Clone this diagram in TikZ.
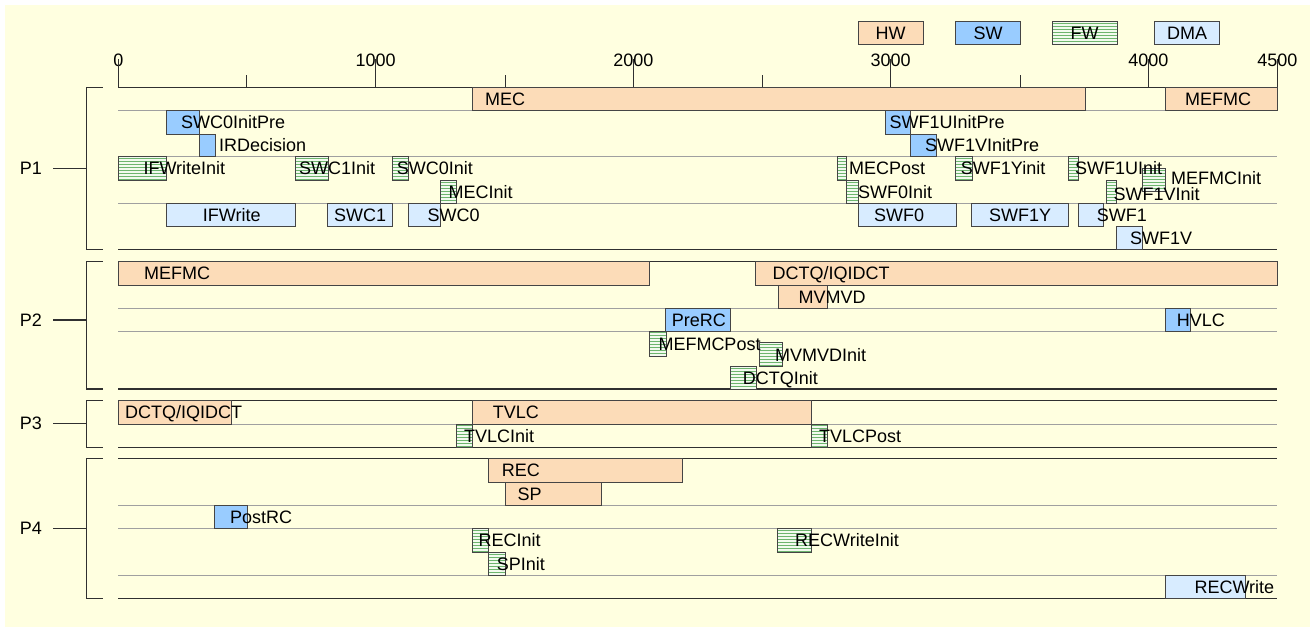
\documentclass[tikz,border=0pt]{standalone}
\usepackage{fontspec}
\setmainfont{Liberation Sans}
\usetikzlibrary{patterns}
\definecolor{bg}{HTML}{FFFFE0}
\definecolor{hw}{HTML}{FCDCB8}
\definecolor{sw}{HTML}{99CCFF}
\definecolor{dma}{HTML}{D8ECFF}
\definecolor{fwbg}{HTML}{F2FAEE}
\definecolor{fwln}{HTML}{6DB56D}
\definecolor{edge}{HTML}{454545}
\definecolor{lane}{HTML}{A0A0A0}
\definecolor{dark}{HTML}{303030}
\pgfdeclarelayer{fg}
\pgfsetlayers{main,fg}
\tikzset{
  hwbox/.style={draw=edge,fill=hw,line width=1pt},
  swbox/.style={draw=edge,fill=sw,line width=1pt},
  dmabox/.style={draw=edge,fill=dma,line width=1pt},
  fwbox/.style={draw=edge,line width=1pt,preaction={fill=fwbg},pattern=horizontal lines,pattern color=fwln},
  txt/.style={inner sep=0pt,font=\fontsize{18}{21}\selectfont},
  lbl/.style={txt,anchor=base west},
  laneline/.style={draw=lane,line width=1pt},
  grpline/.style={draw=dark,line width=1.2pt},
  brk/.style={draw=dark,line width=1.2pt},
  tick/.style={draw=dark,line width=1pt},
  legbox/.style={minimum width=65pt,minimum height=23.3pt,inner sep=0pt,font=\fontsize{18}{21}\selectfont}
}
% #1 style, #2 x1, #3 y1, #4 x2, #5 y2, #6 name, #7 text x, #8 text, #9 text y offset
\newcommand\taskoff[9]{%
  \draw[#1] (#2,#3) rectangle (#4,#5);
  \begin{pgfonlayer}{fg}
    \node[lbl] (#6) at (#7,{(#3+#5)/2+6.5+#9}) {#8};
  \end{pgfonlayer}}
\newcommand\task[8]{\taskoff{#1}{#2}{#3}{#4}{#5}{#6}{#7}{#8}{0}}
% #1 name, #2 top, #3 bottom, #4 label y, #5 text
\newcommand\group[5]{%
  \draw[brk] (102.7,#2) -- (86.3,#2) -- (86.3,#3) -- (102.7,#3);
  \coordinate (#1b) at (86.3,#4);
  \node[txt] (#1) at (31,#4) {#5};
  \draw[brk] ([xshift=11pt]#1.east) -- (#1b);}
\begin{document}
\begin{tikzpicture}[x=1pt,y=-1pt]
\useasboundingbox (0,0) rectangle (1313,627);
\fill[white] (0,0) rectangle (1313,627);
\fill[bg] (5,5) rectangle (1310,627);

% lane lines
\foreach \y in {110.6,156.7,203.3,308.3,331,424,505.7,528.3,575}
  \draw[laneline] (118.3,\y) -- (1277.3,\y);
\foreach \y in {87.3,249.3,261.7,389,400.7,447.3,458.3,598.3}
  \draw[grpline] (118.3,\y) -- (1277.3,\y);

% axis
\foreach \x/\t in {118.3/0,375.7/1000,633.3/2000,890.7/3000,1148.3/4000,1277.3/4500}{
  \node[txt] (ax\t) at (\x,60) {\t};
  \draw[tick] (\x,87.3) -- (\x,59);
}
\foreach \x in {246.7,505,762.7,1020}
  \draw[tick] (\x,87.3) -- (\x,75.3);

% legend
\node[legbox,hwbox] (leghw) at (890.5,33.3) {HW};
\node[legbox,swbox] (legsw) at (988,33.3) {SW};
\node[legbox,fwbox] (legfw) at (1084.5,33.3) {FW};
\node[legbox,dmabox] (legdma) at (1187,33.3) {DMA};

% groups
\group{p1}{87.3}{249.3}{168.3}{P1}
\group{p2}{261.7}{389}{320}{P2}
\group{p3}{400.7}{447.3}{423.3}{P3}
\group{p4}{458.3}{598.3}{528.3}{P4}

% P1
\task{hwbox}{472.7}{87.3}{1085}{110.6}{mec}{485}{MEC}
\task{hwbox}{1165}{87.3}{1277.3}{110.6}{mefmcA}{1185}{MEFMC}
\task{swbox}{166.3}{110.6}{199}{134}{swcOinitpre}{181}{SWC0InitPre}
\task{swbox}{885}{110.6}{910.7}{134}{swfUinitpre}{889.3}{SWF1UInitPre}
\task{swbox}{199}{134}{215}{156.7}{irdecision}{219}{IRDecision}
\task{swbox}{910.7}{134}{936}{156.7}{swfVinitpre}{925}{SWF1VInitPre}
\task{fwbox}{118.3}{156.7}{166.3}{180}{ifwriteinit}{143.3}{IFWriteInit}
\task{fwbox}{295.3}{156.7}{328}{180}{swcIinit}{299}{SWC1Init}
\task{fwbox}{392.3}{156.7}{408.3}{180}{swcOinit}{396.7}{SWC0Init}
\task{fwbox}{837.7}{156.7}{846}{180}{mecpost}{849}{MECPost}
\task{fwbox}{955.7}{156.7}{972}{180}{swfYinit}{960.7}{SWF1Yinit}
\task{fwbox}{1068.3}{156.7}{1078}{180}{swfUinit}{1075}{SWF1UInit}
\taskoff{fwbox}{1142.3}{168.3}{1165}{191.7}{mefmcinit}{1171}{MEFMCInit}{-1.8}
\task{fwbox}{440}{180}{456.7}{203.3}{mecinit}{448.3}{MECInit}
\task{fwbox}{846}{180}{858.7}{203.3}{swfOinit}{858}{SWF0Init}
\taskoff{fwbox}{1106.7}{180}{1116.7}{203.3}{swfVinit}{1113.3}{SWF1VInit}{2.6}
\task{dmabox}{166.3}{203.3}{295.3}{226.7}{ifwrite}{202.7}{IFWrite}
\task{dmabox}{327.7}{203.3}{392.3}{226.7}{swcI}{334}{SWC1}
\task{dmabox}{408.3}{203.3}{440}{226.7}{swcO}{427.3}{SWC0}
\task{dmabox}{858.7}{203.3}{956}{226.7}{swfO}{874}{SWF0}
\task{dmabox}{971.7}{203.3}{1068.3}{226.7}{swfY}{989}{SWF1Y}
\task{dmabox}{1078}{203.3}{1103.3}{226.7}{swfI}{1096.7}{SWF1}
\task{dmabox}{1116.3}{226.7}{1142.3}{249.3}{swfV}{1130}{SWF1V}

% P2
\task{hwbox}{118.3}{261.7}{649.3}{285}{mefmcB}{144}{MEFMC}
\task{hwbox}{755.7}{261.7}{1277.3}{285}{dctqA}{772.3}{DCTQ/IQIDCT}
\task{hwbox}{778.3}{285}{827.3}{308.3}{mvmvd}{798.3}{MVMVD}
\task{swbox}{665.7}{308.3}{730.3}{331}{prerc}{671.7}{PreRC}
\task{swbox}{1165.3}{308.3}{1190.7}{331}{hvlc}{1176.7}{HVLC}
\task{fwbox}{649.3}{331.7}{666}{356.7}{mefmcpost}{658.3}{MEFMCPost}
\task{fwbox}{759}{342.3}{782.3}{366.7}{mvmvdinit}{775}{MVMVDInit}
\task{fwbox}{730.3}{366}{756}{389}{dctqinit}{742.7}{DCTQInit}

% P3
\task{hwbox}{118.3}{400.7}{231.7}{424}{dctqB}{125}{DCTQ/IQIDCT}
\task{hwbox}{472.7}{400.7}{811}{424}{tvlc}{492.7}{TVLC}
\task{fwbox}{456}{424}{472.7}{447.3}{tvlcinit}{464}{TVLCInit}
\task{fwbox}{811}{424}{827.3}{447.3}{tvlcpost}{819}{TVLCPost}

% P4
\task{hwbox}{488.3}{458.3}{682.3}{482.3}{rec}{501.7}{REC}
\task{hwbox}{505}{482.3}{601.7}{505.7}{sp}{517.3}{SP}
\task{swbox}{214.3}{505.7}{247.3}{528.3}{postrc}{230}{PostRC}
\task{fwbox}{472.7}{528.3}{488.3}{552.3}{recinit}{478.3}{RECInit}
\task{fwbox}{488.3}{552.3}{505}{575}{spinit}{496.7}{SPInit}
\task{fwbox}{777.7}{528.3}{811}{552.3}{recwriteinit}{795}{RECWriteInit}
\task{dmabox}{1165}{575}{1245.7}{598.3}{recwrite}{1194.3}{RECWrite}
\end{tikzpicture}
\end{document}
